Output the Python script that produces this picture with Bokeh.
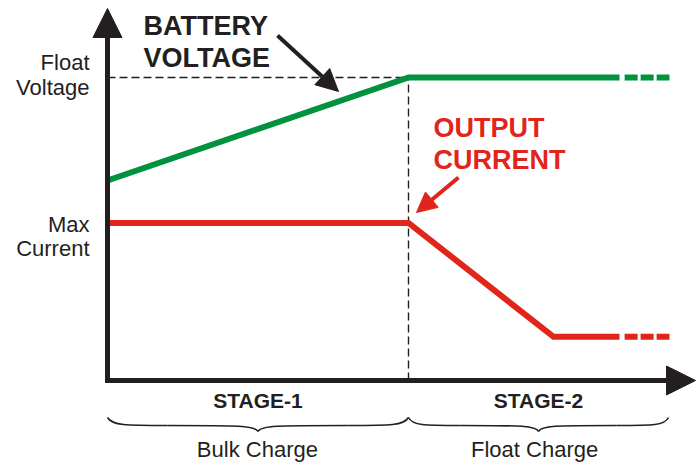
from bokeh.plotting import figure
from bokeh.models import Range1d, Arrow, NormalHead
from bokeh.core.properties import value
from bokeh.embed import file_html
from bokeh.resources import INLINE

# ---- data (schematic charging profile) ----
stage_bounds = [0.0, 1.0, 1.864]          # stage-1 start, stage-1/2 boundary, stage-2 end
stage_names = ["STAGE-1", "STAGE-2"]
stage_modes = ["Bulk Charge", "Float Charge"]

voltage_t = [0.0, 1.0, 1.701]
voltage_v = [6.6, 10.0, 10.0]
current_t = [0.0, 1.0, 1.482, 1.701]
current_v = [5.2, 5.2, 1.44, 1.44]
tail_t = [1.718, 1.867]                    # dashed continuation

float_voltage = 10.0
max_current = 5.2
y_labels = [["Float", "Voltage"], ["Max", "Current"]]

GREEN = "#00923F"
RED = "#E1251B"
BLACK = "#231F20"
FONT = value("Liberation Sans")

PX = 1 / 30.3          # one screen pixel in y data units
UP_S = 8 * PX          # baseline correction for ~22px text
UP_L = 9.5 * PX        # baseline correction for ~27px text

p = figure(width=696, height=465, output_backend="svg", toolbar_location=None,
           x_range=Range1d(-0.35548, 1.95681), y_range=Range1d(-2.8053, 12.5413),
           x_axis_location=None, y_axis_location=None, min_border=0)
p.outline_line_color = None
p.grid.visible = False
p.background_fill_color = "white"
p.border_fill_color = "white"

# reference dashed lines
p.line([0, stage_bounds[1]], [float_voltage, float_voltage], line_color=BLACK,
       line_width=1.4, line_dash="8 4")
p.line([stage_bounds[1], stage_bounds[1]], [0, float_voltage], line_color=BLACK,
       line_width=1.4, line_dash="8 4")

# axes with arrowheads
p.add_layout(Arrow(x_start=0, y_start=-0.08, x_end=0, y_end=12.277,
                   line_width=5, line_color=BLACK,
                   end=NormalHead(size=29, fill_color=BLACK, line_color=BLACK, line_width=1)))
p.add_layout(Arrow(x_start=-0.008, y_start=0, x_end=1.9535, y_end=0,
                   line_width=5, line_color=BLACK,
                   end=NormalHead(size=29, fill_color=BLACK, line_color=BLACK, line_width=1)))

# series
p.line(voltage_t, voltage_v, line_color=GREEN, line_width=6, line_join="miter")
p.line(tail_t, [voltage_v[-1]] * 2, line_color=GREEN, line_width=6, line_dash="13 3")
p.line(current_t, current_v, line_color=RED, line_width=6, line_join="miter")
p.line(tail_t, [current_v[-1]] * 2, line_color=RED, line_width=6, line_dash="13 3")

# y labels
lab_x = -0.0598
p.text(x=[lab_x] * 2, y=[10.231 + UP_S, 9.406 + UP_S], text=y_labels[0], text_font=FONT,
       text_font_size="22px", text_align="right", text_baseline="alphabetic", text_color=BLACK)
p.text(x=[lab_x] * 2, y=[4.884 + UP_S, 4.092 + UP_S], text=y_labels[1], text_font=FONT,
       text_font_size="22px", text_align="right", text_baseline="alphabetic", text_color=BLACK)

# callouts
p.text(x=[0.1196] * 2, y=[11.386 + UP_L, 10.330 + UP_L], text=["BATTERY", "VOLTAGE"],
       text_font=FONT, text_font_style="bold", text_font_size="27px", text_align="left",
       text_baseline="alphabetic", text_color=BLACK)
p.add_layout(Arrow(x_start=0.5648, y_start=11.386, x_end=0.7674, y_end=9.538,
                   line_width=4, line_color=BLACK,
                   end=NormalHead(size=22, fill_color=BLACK, line_color=BLACK, line_width=1)))
p.text(x=[1.083] * 2, y=[8.020 + UP_L, 6.964 + UP_L], text=["OUTPUT", "CURRENT"],
       text_font=FONT, text_font_style="bold", text_font_size="27px", text_align="left",
       text_baseline="alphabetic", text_color=RED)
p.add_layout(Arrow(x_start=1.1661, y_start=6.700, x_end=1.0266, y_end=5.545,
                   line_width=4, line_color=RED,
                   end=NormalHead(size=20, fill_color=RED, line_color=RED, line_width=1)))

# stage labels and braces
centers = [(stage_bounds[i] + stage_bounds[i + 1]) / 2 for i in range(2)]
p.text(x=centers, y=[-0.924 + UP_S] * 2, text=stage_names, text_font=FONT,
       text_font_style="bold", text_font_size="21px", text_align="center",
       text_baseline="alphabetic", text_color=BLACK)
p.text(x=[centers[0] - 0.002, centers[1] - 0.013], y=[-2.54 + UP_S] * 2, text=stage_modes,
       text_font=FONT, text_font_size="22px", text_align="center",
       text_baseline="alphabetic", text_color=BLACK)

y_end, y_flat, y_tip = -1.221, -1.485, -1.683
bx0, by0, bx1, by1, bcx0, bcy0, bcx1, bcy1 = [], [], [], [], [], [], [], []
for i in range(2):
    a, b = stage_bounds[i], stage_bounds[i + 1]
    m = (a + b) / 2
    for xa, s in ((a, 1), (b, -1)):
        W = abs(m - xa)
        # curl from end down to flat
        bx0.append(xa); by0.append(y_end)
        bcx0.append(xa + s * 0.03 * W); bcy0.append(y_flat)
        bcx1.append(xa + s * 0.12 * W); bcy1.append(y_flat)
        bx1.append(xa + s * 0.4 * W); by1.append(y_flat)
        # flat to tip
        bx0.append(xa + s * 0.4 * W); by0.append(y_flat)
        bcx0.append(m - s * 0.12 * W); bcy0.append(y_flat)
        bcx1.append(m - s * 0.02 * W); bcy1.append(y_flat)
        bx1.append(m); by1.append(y_tip)
p.bezier(x0=bx0, y0=by0, x1=bx1, y1=by1, cx0=bcx0, cy0=bcy0, cx1=bcx1, cy1=bcy1,
         line_color=BLACK, line_width=1.6)

open("out.html", "w").write(file_html(p, INLINE))
